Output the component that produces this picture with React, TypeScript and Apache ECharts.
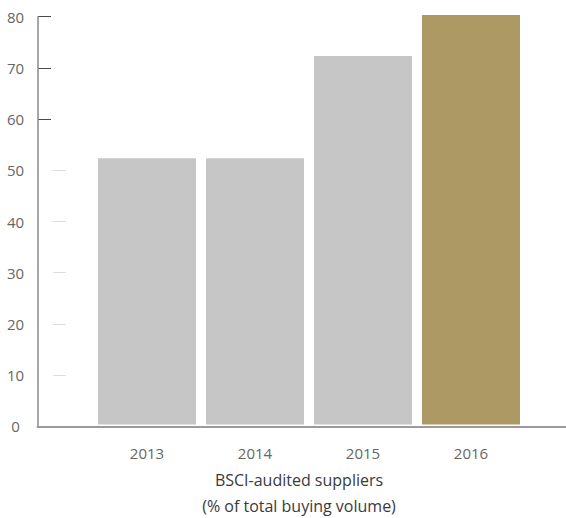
import React, { useEffect, useRef } from "react";
import * as echarts from "echarts";

const categories = ["2013", "2014", "2015", "2016"];
const values = [52, 52, 72, 80];
const highlightCategory = "2016";
const yTicks = [0, 10, 20, 30, 40, 50, 60, 70, 80];
const titleLines = ["BSCI-audited suppliers", "(% of total buying volume)"];

const FONT = "'Open Sans', 'Noto Sans', sans-serif";
const T = "rgba(0,0,0,0)";

export default function App() {
  const ref = useRef<HTMLDivElement>(null);
  useEffect(() => {
    document.body.style.margin = "0";
    const chart = echarts.init(ref.current!, null, { renderer: "svg" });
    const yMin = yTicks[0];
    const yMax = yTicks[yTicks.length - 1];
    const step = yTicks[1] - yTicks[0];
    const axisTop = 16.7;
    const axisH = 409.6;
    const darkColors = yTicks.map((v) => (v === 0 || v >= 60 ? "#4a4a4a" : T));
    const lightColors = yTicks.map((v) => (v > 0 && v <= 50 ? "#dcdcdc" : T));
    const hiddenY = (gridIdx: number, colors?: string[]) => ({
      type: "value",
      gridIndex: gridIdx,
      min: yMin,
      max: yMax,
      interval: step,
      axisLine: { show: false },
      axisTick: { show: false },
      axisLabel: { show: false },
      splitLine: colors
        ? { show: true, lineStyle: { color: colors, width: 1 } }
        : { show: false },
    });
    const hiddenX = (gridIdx: number) => ({
      type: "category",
      gridIndex: gridIdx,
      data: [""],
      axisLine: { show: false },
      axisTick: { show: false },
      axisLabel: { show: false },
      splitLine: { show: false },
    });
    chart.setOption({
      animation: false,
      backgroundColor: "#ffffff",
      title: titleLines.map((t, i) => ({
        text: t,
        left: 299,
        top: 472 + i * 26,
        padding: 0,
        textAlign: "center",
        textStyle: {
          fontFamily: FONT,
          fontSize: 16,
          fontWeight: "normal",
          color: "#3a3a3a",
          lineHeight: 16,
        },
      })),
      grid: [
        { left: 37.5, top: axisTop, width: 528.5, height: axisH },
        { left: 93, top: 15, width: 432, height: axisH },
        { left: 38, top: axisTop, width: 13, height: axisH },
        { left: 53, top: axisTop, width: 13, height: axisH },
      ],
      xAxis: [
        {
          type: "category",
          gridIndex: 0,
          data: [""],
          axisLine: { show: true, lineStyle: { color: "#9a9a9a", width: 2 } },
          axisTick: { show: false },
          axisLabel: { show: false },
        },
        {
          type: "category",
          gridIndex: 1,
          data: categories,
          axisLine: { show: false },
          axisTick: { show: false },
          axisLabel: {
            color: "#666666",
            fontFamily: FONT,
            fontSize: 15,
            margin: 21,
          },
        },
        hiddenX(2),
        hiddenX(3),
      ],
      yAxis: [
        {
          type: "value",
          gridIndex: 0,
          min: yMin,
          max: yMax,
          interval: step,
          axisLine: { show: true, lineStyle: { color: "#8a8a8a", width: 1.5 } },
          axisTick: { show: false },
          axisLabel: {
            color: "#666666",
            fontFamily: FONT,
            fontSize: 15,
            align: "center",
            margin: 22,
          },
          splitLine: { show: false },
        },
        hiddenY(1),
        hiddenY(2, darkColors),
        hiddenY(3, lightColors),
      ],
      series: [
        {
          type: "bar",
          xAxisIndex: 1,
          yAxisIndex: 1,
          barWidth: 98,
          clip: false,
          data: values.map((v, i) => ({
            value: v,
            itemStyle: {
              color: categories[i] === highlightCategory ? "#ad9963" : "#c6c6c6",
            },
          })),
        },
      ],
    });
    return () => chart.dispose();
  }, []);
  return <div ref={ref} style={{ width: 566, height: 518 }} />;
}
